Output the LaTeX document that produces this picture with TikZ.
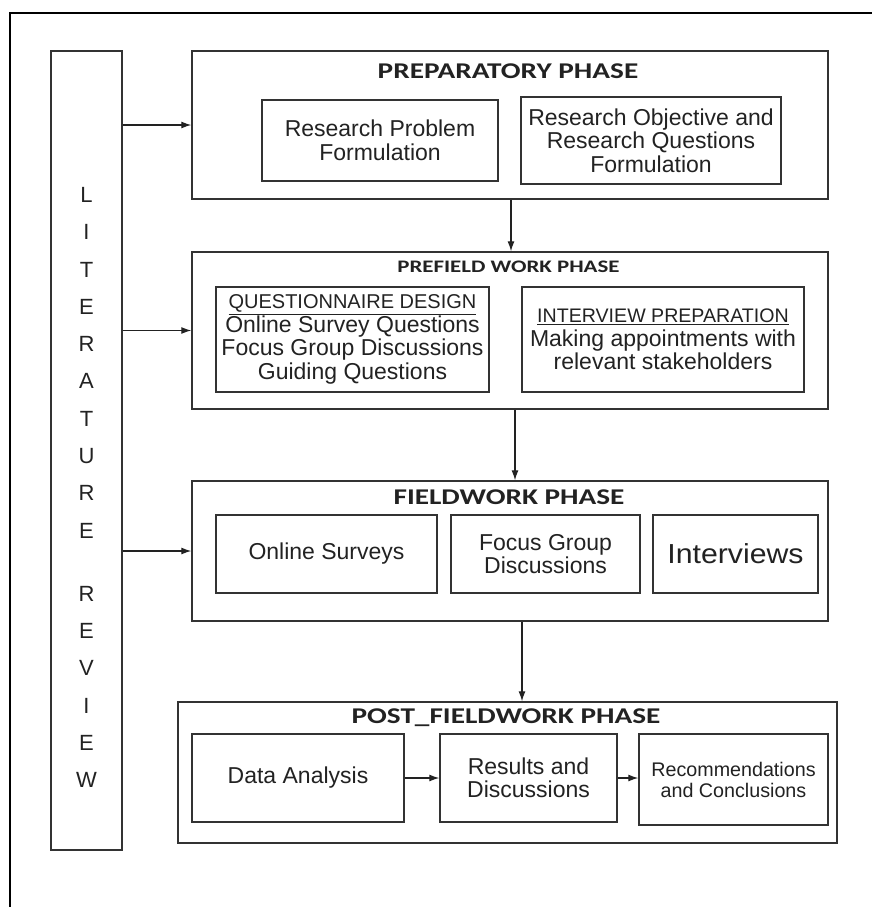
\documentclass[tikz,border=0pt]{standalone}
\usepackage{fontspec}
\setmainfont{Liberation Sans}
\newfontfamily\titlefont[FakeStretch=1.3]{Carlito}
\newfontfamily\widesans[FakeStretch=1.1]{Liberation Sans}
\usetikzlibrary{arrows.meta}

\definecolor{ink}{HTML}{222222}
\definecolor{edge}{HTML}{333333}

\begin{document}
\begin{tikzpicture}[x=1pt,y=-1pt,
  phasebox/.style={draw=edge, line width=1.4pt, inner sep=0pt},
  itembox/.style={draw=edge, line width=1.4pt, inner sep=0pt, align=center,
    text=ink, font=\fontsize{23}{23.5}\selectfont},
  phasetitle/.style={font=\titlefont\bfseries\fontsize{22.5}{24}\selectfont,
    inner sep=0pt, text=ink},
  flow/.style={-{Latex[length=10pt,width=7pt]}, line width=1.2pt, draw=ink},
]
\useasboundingbox[fill=white] (0,0) rectangle (872,907);

% open frame along the top and left edges
\draw[line width=2pt, black] (9.5,907) -- (9.5,13.5) -- (872,13.5);

% literature review column
\node[phasebox, minimum width=71pt, minimum height=799pt] (lit) at (86.5,450.5) {};
\node[align=center, text=ink, font=\fontsize{22}{37.3}\selectfont, inner sep=0pt]
  (litword) at (86.5,487.5)
  {L\\I\\T\\E\\R\\A\\T\\U\\R\\E\\[25.7pt]R\\E\\V\\I\\E\\W};

% preparatory phase
\node[phasebox, minimum width=636pt, minimum height=148pt] (prep) at (510,125) {};
\node[phasetitle] (prept) at (508,71) {PREPARATORY PHASE};
\node[itembox, minimum width=236pt, minimum height=81pt] (rpf) at (380,140.5)
  {Research Problem\\Formulation};
\node[itembox, minimum width=260pt, minimum height=87pt] (roq) at (651,140.5)
  {Research Objective and\\Research Questions\\Formulation};

% prefield work phase
\node[phasebox, minimum width=636pt, minimum height=157pt] (pre) at (510,330.5) {};
\node[phasetitle, font=\titlefont\bfseries\fontsize{17.6}{20}\selectfont]
  (pret) at (508.5,267) {PREFIELD WORK PHASE};
\node[itembox, minimum width=273pt, minimum height=105pt] (qd) at (352.5,339.5)
  {{\fontsize{20}{23.5}\selectfont\underline{QUESTIONNAIRE DESIGN}}\\
   Online Survey Questions\\Focus Group Discussions\\Guiding Questions};
\node[itembox, minimum width=282pt, minimum height=105pt] (ip) at (663,339.5)
  {{\fontsize{19.6}{23.5}\selectfont\underline{INTERVIEW PREPARATION}}\\
   Making appointments with\\relevant stakeholders};

% fieldwork phase
\node[phasebox, minimum width=636pt, minimum height=140pt] (fw) at (510,551) {};
\node[phasetitle] (fwt) at (509,497) {FIELDWORK PHASE};
\node[itembox, minimum width=221pt, minimum height=78pt] (os) at (326.5,554)
  {Online Surveys};
\node[itembox, minimum width=189pt, minimum height=78pt] (fg) at (545.5,554)
  {Focus Group\\Discussions};
\node[itembox, minimum width=165pt, minimum height=78pt,
  font=\widesans\fontsize{27.5}{28}\selectfont] (iv) at (735.5,554) {Interviews};

% post fieldwork phase
\node[phasebox, minimum width=659pt, minimum height=141pt] (post) at (507.5,772.5) {};
\node[phasetitle] (postt) at (506,718) {POST\_FIELDWORK PHASE};
\node[itembox, minimum width=212pt, minimum height=88pt] (da) at (298,778)
  {Data Analysis};
\node[itembox, minimum width=177pt, minimum height=88pt] (rd) at (528.5,778)
  {Results and\\Discussions};
\node[itembox, minimum width=189pt, minimum height=91pt,
  font=\fontsize{19.7}{21}\selectfont] (rc) at (733.5,779.5)
  {Recommendations\\and Conclusions};

% connectors
\draw[flow] (lit.east |- prep.west) -- (prep.west);
\draw[flow] (lit.east |- pre.west) -- (pre.west);
\draw[flow] (lit.east |- fw.west) -- (fw.west);
\draw[flow] ([xshift=1pt]prep.south) -- ([xshift=1pt]prep.south |- pre.north);
\draw[flow] ([xshift=5pt]pre.south) -- ([xshift=5pt]pre.south |- fw.north);
\draw[flow] ([xshift=12pt]fw.south) -- ([xshift=12pt]fw.south |- post.north);
\draw[flow] (da.east) -- (rd.west);
\draw[flow] (rd.east) -- (rd.east -| rc.west);
\end{tikzpicture}
\end{document}
